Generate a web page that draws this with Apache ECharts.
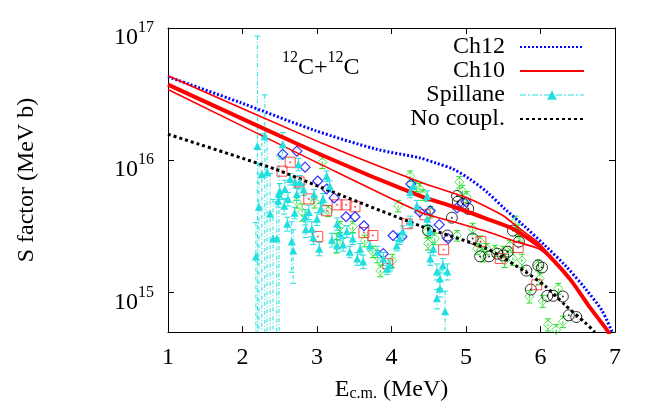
<!DOCTYPE html>
<html>
<head>
<meta charset="utf-8">
<script src="https://cdn.jsdelivr.net/npm/echarts@6/dist/echarts.min.js"></script>
<style>
  html, body { margin: 0; padding: 0; background: #fff; }
  #chart { width: 654px; height: 407px; }
</style>
</head>
<body>
<div id="chart"></div>
<script>
// E_cm (MeV), S factor (MeV b)
const ch12 = [[1.00, 4.28e16], [1.97, 2.73e16], [2.97, 1.68e16], [3.80, 1.21e16], [4.38, 1.04e16],
  [4.60, 9.5e15], [4.83, 8.55e15], [5.05, 7.2e15], [5.28, 5.75e15], [5.52, 4.28e15], [5.79, 3.14e15],
  [6.06, 2.26e15], [6.33, 1.60e15], [6.60, 1.07e15], [6.83, 7.2e14], [6.96, 5.0e14]]
const ch10 = [[1.00, 3.73e16], [3.07, 1.09e16], [4.38, 5.36e15], [4.83, 4.44e15], [5.28, 3.60e15],
  [5.63, 3.03e15], [5.97, 2.26e15], [6.19, 1.71e15], [6.42, 1.21e15], [6.64, 8.0e14],
  [6.87, 5.4e14], [6.93, 4.8e14]]
const ch10Upper = [[1.00, 4.35e16], [3.07, 1.34e16], [4.38, 6.84e15], [5.05, 5.09e15], [5.50, 3.80e15],
  [5.72, 3.03e15], [5.97, 2.38e15], [6.19, 1.71e15], [6.42, 1.21e15], [6.64, 8.0e14],
  [6.87, 5.4e14], [6.93, 4.8e14]]
const ch10Lower = [[1.00, 3.42e16], [3.07, 9.17e15], [4.38, 4.06e15], [4.83, 3.42e15], [5.28, 2.88e15],
  [5.63, 2.46e15], [5.97, 2.14e15], [6.19, 1.71e15], [6.42, 1.21e15], [6.64, 8.0e14],
  [6.87, 5.4e14], [6.93, 4.8e14]]
const noCoupl = [[1.00, 1.57e16], [2.44, 8.55e15], [3.04, 6.27e15], [4.38, 3.19e15], [5.28, 2.14e15],
  [5.79, 1.44e15], [6.06, 1.12e15], [6.33, 8.0e14], [6.60, 5.9e14], [6.73, 5.0e14]]

// [E, S, dS]
const spillane = [
  [2.18, 1.87e15, 1.5e15], [2.20, 1.28e16, 7.4e16], [2.22, 4.44e15, 5.0e15], [2.26, 7.84e15, 8.0e15],
  [2.30, 1.52e16, 1.6e16], [2.33, 8.11e15, 9.0e15], [2.37, 3.93e15, 4.0e15], [2.41, 2.55e15, 2.5e15],
  [2.46, 2.55e15, 2.3e15], [2.49, 5.55e15, 5.2e15], [2.54, 1.32e16, 3.0e15], [2.56, 4.51e15, 6e14],
  [2.50, 5.85e15, 8e14], [2.48, 4.92e15, 5e14], [2.57, 6.05e15, 1.0e15], [2.61, 5.09e15, 6e14],
  [2.64, 7.19e15, 7e14], [2.71, 6.84e15, 7e14], [2.75, 9.32e15, 1.0e15], [2.77, 6.84e15, 8e14],
  [2.73, 5.55e15, 6e14], [2.66, 2.42e15, 1.0e15], [2.68, 2.07e15, 9e14], [2.84, 3.73e15, 5e14],
  [2.89, 4.06e15, 5e14], [2.93, 3.03e15, 4e14], [3.00, 3.60e15, 4e14], [3.03, 2.14e15, 2.5e14],
  [3.08, 5.09e15, 5e14], [3.13, 7.58e15, 7e14], [3.17, 6.37e15, 6e14], [3.27, 3.30e15, 3.5e14],
  [3.31, 2.78e15, 3e14], [3.27, 2.26e15, 2.5e14], [3.44, 2.03e15, 2e14], [3.48, 2.55e15, 2.5e14],
  [3.54, 1.80e15, 2e14], [3.62, 1.71e15, 2e14], [3.58, 2.14e15, 2e14], [3.71, 2.26e15, 2e14],
  [3.81, 2.03e15, 2e14], [3.89, 1.80e15, 2e14], [3.94, 1.51e15, 1.5e14], [3.98, 1.60e15, 1.5e14],
  [4.07, 2.26e15, 2e14], [4.11, 2.55e15, 2.5e14], [4.15, 2.88e15, 3e14], [4.25, 3.42e15, 3.5e14],
  [4.25, 5.75e15, 5.5e14], [4.29, 6.37e15, 6e14], [4.34, 4.51e15, 4.5e14], [4.48, 5.36e15, 5e14],
  [4.48, 3.60e15, 3.5e14], [4.52, 2.88e15, 3e14], [4.52, 1.80e15, 2e14], [4.56, 2.14e15, 2.5e14],
  [4.61, 1.44e15, 2e14], [4.65, 1.27e15, 2e14], [4.69, 1.60e15, 2e14], [4.75, 1.44e15, 2e14],
  [4.61, 9.0e14, 1.5e14], [4.72, 7.2e14, 3e14], [4.65, 1.07e15, 1.5e14],
  [2.60, 3.3e15, 4e14], [2.70, 4.0e15, 4e14], [2.85, 3.0e15, 4e14], [2.95, 2.6e15, 3e14],
  [3.05, 4.3e15, 4e14], [3.20, 2.5e15, 3e14], [3.35, 2.3e15, 2.5e14], [3.40, 2.9e15, 3e14],
  [2.82, 6.0e15, 6e14], [2.96, 5.5e15, 5e14]
]
const greenDiamonds = [
  [2.73, 4.84e15, 5e14], [2.80, 4.06e15, 6e14], [2.97, 4.84e15, 5e14], [3.07, 9.65e15, 1.0e15],
  [3.15, 4.14e15, 4e14], [3.26, 2.38e15, 4e14], [3.31, 3.14e15, 3e14], [3.48, 3.14e15, 3e14],
  [3.64, 2.46e15, 2.5e14], [3.75, 2.03e15, 2e14], [3.81, 1.87e15, 2e14], [3.85, 1.46e15, 1.5e14],
  [4.01, 1.74e15, 2e14], [4.09, 4.51e15, 4.5e14], [4.25, 7.58e15, 7e14], [4.33, 6.37e15, 6e14],
  [4.38, 6.05e15, 6e14], [4.42, 5.46e15, 5e14], [4.52, 4.06e15, 4e14], [4.48, 2.88e15, 3e14],
  [4.49, 2.34e15, 2.5e14], [4.58, 2.55e15, 2.5e14], [4.88, 2.69e15, 2.5e14], [4.91, 6.84e15, 7e14],
  [4.95, 5.85e15, 6e14], [5.01, 5.27e15, 5e14], [5.09, 3.03e15, 3e14], [5.15, 2.14e15, 2e14],
  [5.19, 2.42e15, 2.5e14], [5.23, 1.90e15, 2e14], [5.28, 2.14e15, 2e14], [5.39, 2.07e15, 2e14],
  [5.50, 2.03e15, 2e14], [5.59, 2.26e15, 2e14], [5.63, 1.80e15, 2e14], [5.66, 3.42e15, 3.5e14],
  [5.70, 2.93e15, 3e14], [5.72, 2.69e15, 2.5e14], [5.52, 1.74e15, 2e14], [5.75, 1.74e15, 2e14],
  [5.85, 9.3e14, 1e14], [5.97, 1.60e15, 1.5e14], [5.99, 1.27e15, 1.3e14], [6.03, 8.6e14, 9e13],
  [6.10, 5.7e14, 6e13], [6.21, 5.2e14, 5e13], [6.24, 1.07e15, 1e14], [6.30, 6.0e14, 6e13]
]
const redSquares = [[2.53, 8.25e15], [2.64, 9.65e15], [2.76, 6.84e15], [2.89, 5.09e15], [3.01, 2.64e15],
  [3.13, 4.14e15], [3.27, 4.59e15], [3.39, 4.59e15], [3.51, 4.44e15], [3.63, 2.83e15],
  [3.75, 2.69e15], [3.95, 1.65e15], [4.21, 3.30e15], [4.45, 3.86e15], [4.70, 2.10e15],
  [5.20, 2.42e15], [5.46, 1.80e15], [5.70, 2.18e15], [5.95, 1.14e15]]
const blueDiamonds = [[2.54, 1.11e16], [2.73, 1.17e16], [2.84, 8.85e15], [3.01, 6.95e15], [3.13, 6.05e15],
  [3.23, 5.18e15], [3.39, 3.73e15], [3.51, 3.73e15], [3.63, 3.19e15], [3.89, 1.96e15],
  [4.02, 2.69e15], [4.14, 2.64e15], [4.26, 6.60e15], [4.38, 4.06e15], [4.52, 4.14e15],
  [4.64, 3.25e15], [4.76, 2.55e15], [4.88, 4.36e15], [5.00, 4.84e15]]
const blackCircles = [[4.49, 2.93e15], [4.75, 2.69e15], [4.81, 3.67e15], [4.88, 5.36e15], [4.89, 4.84e15],
  [4.96, 4.67e15], [5.03, 4.28e15], [5.09, 2.55e15], [5.19, 1.87e15], [5.31, 1.87e15],
  [5.42, 1.96e15], [5.50, 1.90e15], [5.56, 2.03e15], [5.63, 2.93e15], [5.71, 2.42e15],
  [5.81, 1.46e15], [5.87, 1.05e15], [5.97, 1.60e15], [6.02, 1.54e15], [6.09, 9.4e14],
  [6.17, 9.4e14], [6.30, 9.3e14], [6.38, 6.7e14], [6.48, 6.5e14]]

const xTicks = [1, 7, 1] // min, max, step
const yRange = [5e14, 1e17]

const FONT = 'Liberation Serif'
const CYAN = '#22dede'
const GREEN = '#22dd22'

const chart = echarts.init(document.getElementById('chart'))

function errorBars(color, dash) {
  return function (params, api) {
    const x = api.value(0)
    const lo = Math.max(api.value(1), 1e13)
    const hi = api.value(2)
    const top = api.coord([x, hi])
    const bot = api.coord([x, lo])
    const w = 3
    const style = { stroke: color, lineWidth: 1, lineDash: dash }
    return {
      type: 'group',
      children: [
        { type: 'line', shape: { x1: top[0], y1: top[1], x2: bot[0], y2: bot[1] }, style },
        { type: 'line', shape: { x1: top[0] - w, y1: top[1], x2: top[0] + w, y2: top[1] }, style: { stroke: color, lineWidth: 1 } },
        { type: 'line', shape: { x1: bot[0] - w, y1: bot[1], x2: bot[0] + w, y2: bot[1] }, style: { stroke: color, lineWidth: 1 } }
      ]
    }
  }
}

function toBars(rows) {
  return rows.map(r => [r[0], r[1] - r[2], r[1] + r[2]])
}

function openMarker(name, data, symbol, size, color, width) {
  return {
    name, type: 'scatter', data, symbol, symbolSize: size,
    itemStyle: { color: 'rgba(0,0,0,0)', borderColor: color, borderWidth: width },
    silent: true
  }
}

function dot(name, data, color) {
  return { name, type: 'scatter', data, symbol: 'circle', symbolSize: 2, itemStyle: { color }, silent: true }
}

const supRich = {
  b: { fontFamily: FONT, fontSize: 24, lineHeight: 24, padding: [10, 0, 0, 0], verticalAlign: 'top', color: '#000' },
  s: { fontFamily: FONT, fontSize: 16, lineHeight: 16, padding: [4, 0, 0, 0], verticalAlign: 'top', color: '#000' }
}

const axisCommon = {
  axisLine: { show: true, lineStyle: { color: '#000', width: 1 } },
  axisTick: { show: true, inside: true, length: 6, lineStyle: { color: '#000' } },
  splitLine: { show: false },
  minorTick: { show: false }
}

const noSymbol = { opacity: 0 }

chart.setOption({
  animation: false,
  backgroundColor: '#fff',
  grid: { left: 168, right: 39, top: 28, bottom: 73 },
  legend: {
    orient: 'vertical',
    right: 69,
    top: 35,
    padding: 0,
    align: 'right',
    itemWidth: 64,
    itemHeight: 12,
    itemGap: 0,
    selectedMode: false,
    textStyle: { fontFamily: FONT, fontSize: 24, lineHeight: 24, color: '#000', padding: [0, 10, 0, 0] },
    data: [
      { name: 'Ch12', itemStyle: noSymbol },
      { name: 'Ch10', itemStyle: noSymbol },
      { name: 'Spillane', lineStyle: { opacity: 1, width: 1, type: [6, 2, 2, 2], color: CYAN } },
      { name: 'No coupl.', itemStyle: noSymbol }
    ]
  },
  graphic: [{
    type: 'text',
    left: 282,
    top: 46,
    style: {
      text: '{s|12}{b|C+}{s|12}{b|C}',
      rich: supRich
    }
  }],
  xAxis: [
    Object.assign({
      type: 'value', min: xTicks[0], max: xTicks[1], interval: xTicks[2], position: 'bottom',
      name: '{b|E}{s|c.m.}{b| (MeV)}',
      nameLocation: 'middle',
      nameGap: 42,
      nameTextStyle: {
        rich: {
          b: { fontFamily: FONT, fontSize: 24, lineHeight: 24, verticalAlign: 'top', color: '#000' },
          s: { fontFamily: FONT, fontSize: 16, lineHeight: 16, padding: [11, 0, 0, 0], verticalAlign: 'bottom', color: '#000' }
        }
      },
      axisLabel: { fontFamily: FONT, fontSize: 24, color: '#000', margin: 14 }
    }, axisCommon),
    Object.assign({
      type: 'value', min: xTicks[0], max: xTicks[1], interval: xTicks[2], position: 'top',
      axisLabel: { show: false }
    }, axisCommon)
  ],
  yAxis: [
    Object.assign({
      type: 'log', logBase: 10, min: yRange[0], max: yRange[1], position: 'left',
      name: 'S factor (MeV b)',
      nameLocation: 'middle',
      nameGap: 129,
      nameTextStyle: { fontFamily: FONT, fontSize: 24, color: '#000' },
      axisLabel: {
        margin: 14,
        showMinLabel: false,
        formatter: function (v) {
          const l = Math.log10(v)
          const p = Math.round(l)
          if (Math.abs(l - p) > 1e-6) return ''
          return '{b|10}{s|' + p + '}'
        },
        rich: supRich
      }
    }, axisCommon),
    Object.assign({
      type: 'log', logBase: 10, min: yRange[0], max: yRange[1], position: 'right',
      axisLabel: { show: false }
    }, axisCommon)
  ],
  series: [
    {
      name: 'Ch12', type: 'line', data: ch12, symbol: 'none', smooth: 0.3, silent: true,
      lineStyle: { color: '#0000ff', width: 3, type: [2, 2] }, itemStyle: { color: '#0000ff' }
    },
    {
      name: 'Ch10', type: 'line', data: ch10, symbol: 'none', smooth: 0.2, silent: true,
      lineStyle: { color: '#ff0000', width: 4 }, itemStyle: { color: '#ff0000' }
    },
    {
      name: 'Ch10 upper', type: 'line', data: ch10Upper, symbol: 'none', smooth: 0.2, silent: true,
      lineStyle: { color: '#ff0000', width: 1.6 }
    },
    {
      name: 'Ch10 lower', type: 'line', data: ch10Lower, symbol: 'none', smooth: 0.2, silent: true,
      lineStyle: { color: '#ff0000', width: 1.6 }
    },
    {
      name: 'Spillane err', type: 'custom', data: toBars(spillane), clip: true, silent: true,
      renderItem: errorBars(CYAN, [4, 2, 1, 2])
    },
    {
      name: 'Spillane', type: 'line', data: spillane.map(r => [r[0], r[1]]),
      symbol: 'triangle', symbolSize: 8, showAllSymbol: true, silent: true,
      lineStyle: { opacity: 0, width: 1, color: CYAN }, itemStyle: { color: CYAN }
    },
    {
      name: 'No coupl.', type: 'line', data: noCoupl, symbol: 'none', smooth: 0.2, silent: true,
      lineStyle: { color: '#000', width: 3, type: [3, 3] }, itemStyle: { color: '#000' }
    },
    {
      name: 'green err', type: 'custom', data: toBars(greenDiamonds), clip: true, silent: true,
      renderItem: errorBars(GREEN, [3, 2])
    },
    openMarker('green', greenDiamonds.map(r => [r[0], r[1]]), 'diamond', 9, GREEN, 1),
    openMarker('black', blackCircles, 'circle', 11, '#000', 1),
    dot('black dot', blackCircles, '#000'),
    openMarker('red', redSquares, 'rect', 10, '#ff2020', 1),
    dot('red dot', redSquares, '#ff2020'),
    openMarker('blue', blueDiamonds, 'diamond', 10, '#0000ff', 1.2)
  ]
})
</script>
</body>
</html>
